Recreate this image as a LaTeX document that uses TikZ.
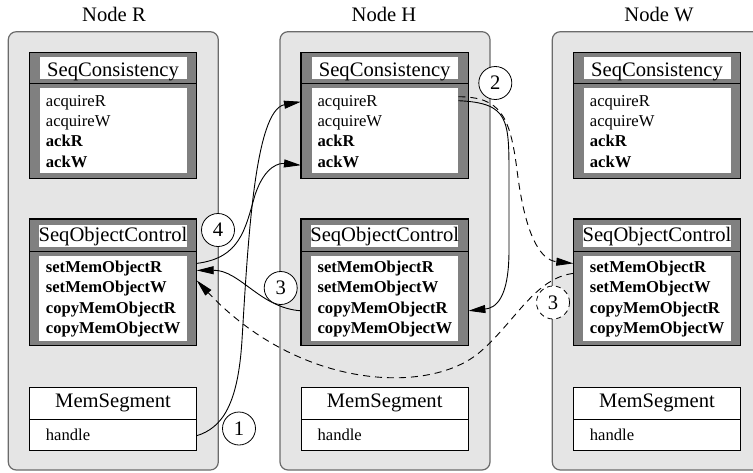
\documentclass[tikz,border=0pt]{standalone}
\usepackage{fontspec}
\setmainfont{Liberation Serif}
\usetikzlibrary{arrows.meta,calc}

\definecolor{panelfill}{gray}{0.9}
\definecolor{panelline}{gray}{0.42}
\definecolor{boxfill}{gray}{0.5}

\tikzset{
  panel/.style={draw=panelline, fill=panelfill, rounded corners=8pt, line width=1.2pt,
                inner sep=0pt, outer sep=0pt},
  modbox/.style={draw=black, fill=boxfill, line width=1.4pt, inner sep=0pt, outer sep=0pt},
  whitebox/.style={fill=white, inner sep=0pt, outer sep=0pt},
  plainbox/.style={draw=black, fill=white, line width=1pt, inner sep=0pt, outer sep=0pt},
  divider/.style={line width=1.4pt},
  thindiv/.style={line width=1pt},
  bigtext/.style={font=\fontsize{20.6}{24}\selectfont, inner sep=0pt},
  smalltext/.style={font=\fontsize{16.6}{20}\selectfont, inner sep=0pt, anchor=base west},
  boldtext/.style={smalltext, font=\fontsize{16.6}{20}\selectfont\bfseries},
  tag/.style={circle, draw, fill=white, line width=0.8pt, minimum size=33pt, inner sep=0pt,
              font=\fontsize{20.6}{24}\selectfont},
  dtag/.style={tag, dash pattern=on 5pt off 4pt},
  link/.style={line width=0.9pt, -{Triangle[length=17pt,width=8pt]}},
  dlink/.style={link, dash pattern=on 7pt off 5pt},
}

\begin{document}
\begin{tikzpicture}[x=1pt,y=-1pt]
\useasboundingbox (0,0) rectangle (753,472);
\clip (0,0) rectangle (753,472);

% three machines, each with the same three components
\foreach \c/\ox/\ttl/\tx in {r/0/R/114, h/271.7/H/384, w/544/W/659} {
  \node[bigtext, anchor=base] (\c-title) at (\tx, 21.7) {Node \ttl};
  \node[panel, minimum width=210pt, minimum height=438.3pt] (\c-panel) at (113.3+\ox, 250.85) {};

  % SeqConsistency
  \node[modbox, minimum width=167.4pt, minimum height=126pt] (\c-sc) at (113+\ox, 115.3) {};
  \node[whitebox, minimum width=146.7pt, minimum height=21.7pt] (\c-sc-head) at (113.35+\ox, 68.15) {};
  \node[whitebox, minimum width=146.7pt, minimum height=85pt] (\c-sc-body) at (113.35+\ox, 130.8) {};
  \draw[divider] (29.3+\ox, 83.3) -- (196.7+\ox, 83.3);
  \node[bigtext, anchor=base] (\c-sc-name) at (113+\ox, 76) {SeqConsistency};
  \node[smalltext] (\c-acqR) at (45.7+\ox, 106) {acquireR};
  \node[smalltext] (\c-acqW) at (45.7+\ox, 126.7) {acquireW};
  \node[boldtext] (\c-ackR) at (45.7+\ox, 146.9) {ackR};
  \node[boldtext] (\c-ackW) at (45.7+\ox, 167.5) {ackW};

  % SeqObjectControl
  \node[modbox, minimum width=167.4pt, minimum height=126.7pt] (\c-soc) at (113+\ox, 282.35) {};
  \node[whitebox, minimum width=147.4pt, minimum height=21.7pt] (\c-soc-head) at (113+\ox, 235.85) {};
  \node[whitebox, minimum width=147.4pt, minimum height=84.7pt] (\c-soc-body) at (113+\ox, 298.35) {};
  \draw[divider] (29.3+\ox, 251.7) -- (196.7+\ox, 251.7);
  \node[bigtext, anchor=base] (\c-soc-name) at (113+\ox, 241) {SeqObjectControl};
  \node[boldtext] (\c-setR) at (45.7+\ox, 272.7) {setMemObjectR};
  \node[boldtext] (\c-setW) at (45.7+\ox, 292.9) {setMemObjectW};
  \node[boldtext] (\c-cpR) at (45.7+\ox, 313.1) {copyMemObjectR};
  \node[boldtext] (\c-cpW) at (45.7+\ox, 333.3) {copyMemObjectW};

  % MemSegment
  \node[plainbox, minimum width=167.4pt, minimum height=62.3pt] (\c-mem) at (113+\ox, 418.85) {};
  \draw[thindiv] (29.3+\ox, 419.3) -- (196.7+\ox, 419.3);
  \node[bigtext, anchor=base] (\c-mem-name) at (113+\ox, 407.7) {MemSegment};
  \node[smalltext] (\c-handle) at (45.7+\ox, 440) {handle};
}

% (1) handle -> acquireR on H
\draw[link] ($(r-mem.east |- r-handle.mid)+(0,-2)$)
  .. controls (222,428) and (238,405) .. (242,340)
  .. controls (248,240) and (255,110) .. ($(h-sc.west |- h-acqR.mid)+(0,-2)$);

% setMemObjectR on R -> ackW on H
\draw[link] ($(r-soc.east |- r-setR.mid)+(0,-7)$)
  .. controls (240,258) and (245,230) .. (255,195)
  .. controls (265,165) and (280,163) .. (h-sc.west |- h-ackW.mid);

% (3) copyMemObjectR on H -> setMemObjectR on R
\draw[link] (h-soc.west |- h-cpR.mid)
  .. controls (260,308) and (240,270) .. (r-soc.east |- r-setR.mid);

% (2) acquireR on H -> copyMemObjectR on H
\draw[link] ($(h-sc-body.east |- h-acqR.mid)+(0,-3)$)
  .. controls (510,103) and (509,120) .. (509,180) -- (509,250)
  .. controls (509,300) and (495,308) .. (h-soc.east |- h-cpR.mid);

% (2) acquireR on H -> setMemObjectR on W
\draw[dlink] ($(h-sc-body.east |- h-acqR.mid)+(0,-7)$)
  .. controls (500,97) and (510,115) .. (517,170)
  .. controls (525,235) and (540,260) .. ($(w-soc.west |- w-setR.mid)+(0,-7)$);

% (3) W -> setMemObjectR on R
\draw[dlink] ($(w-soc.west |- w-setR.mid)+(0,3)$)
  .. controls (535,278) and (515,322) .. (480,352)
  .. controls (430,395) and (300,390) .. ($(r-soc.east |- r-setR.mid)+(0,10)$);

% step numbers
\node[tag] (tag4) at (218,230) {4};
\node[tag] (tag1) at (239,428.5) {1};
\node[tag] (tag3) at (280.7,288) {3};
\node[tag] (tag2) at (495.3,83) {2};
\node[dtag] (tag3w) at (553,302.5) {3};
\end{tikzpicture}
\end{document}
